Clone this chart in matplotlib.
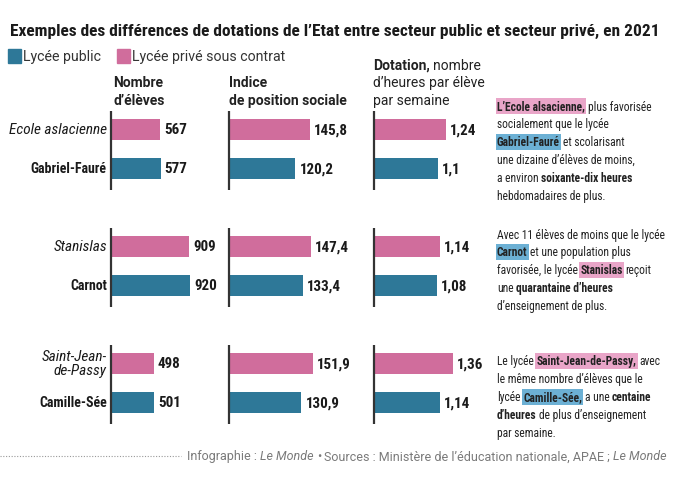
import matplotlib
matplotlib.use("Agg")
import matplotlib.pyplot as plt

# ---- data ----
SCHOOLS = ["Ecole aslacienne", "Gabriel-Fauré", "Stanislas", "Carnot",
           "Saint-Jean-\nde-Passy", "Camille-Sée"]
PRIVATE = [True, False, True, False, True, False]
ELEVES = [567, 577, 909, 920, 498, 501]
IPS = [145.8, 120.2, 147.4, 133.4, 151.9, 130.9]
DOTATION = [1.24, 1.1, 1.14, 1.08, 1.36, 1.14]

TITLE = ("Exemples des différences de dotations de l’Etat entre secteur public "
         "et secteur privé, en 2021")
LEGEND = ["Lycée public", "Lycée privé sous contrat"]

# annotation text: (text, style) with style n=normal, b=bold, hp/hb=highlight
NOTES = [
    [[("L’Ecole alsacienne,", "hp"), ("plus favorisée", "n")],
     [("socialement que le lycée", "n")],
     [("Gabriel-Fauré", "hb"), ("et scolarisant", "n")],
     [("une dizaine d’élèves de moins,", "n")],
     [("a environ", "n"), ("soixante-dix heures", "b")],
     [("hebdomadaires de plus.", "n")]],
    [[("Avec 11 élèves de moins que le lycée", "n")],
     [("Carnot", "hb"), ("et une population plus", "n")],
     [("favorisée, le lycée", "n"), ("Stanislas", "hp"), ("reçoit", "n")],
     [("une", "n"), ("quarantaine d’heures", "b")],
     [("d’enseignement de plus.", "n")]],
    [[("Le lycée", "n"), ("Saint-Jean-de-Passy,", "hp"), ("avec", "n")],
     [("le même nombre d’élèves que le", "n")],
     [("lycée", "n"), ("Camille-Sée,", "hb"), ("a une", "n"), ("centaine", "b")],
     [("d’heures", "b"), ("de plus d’enseignement", "n")],
     [("par semaine.", "n")]],
]

BLUE = "#2e7898"
PINK = "#d06d9c"
HL = {"hp": "#e9a5c8", "hb": "#6cb0d4"}
NARROW = ["Roboto Condensed", "DejaVu Sans"]
SANS = ["Roboto", "DejaVu Sans"]

W, H = 680, 485


def fx(x):
    return x / W


def fy(y):
    return 1 - y / H


def fit_size(fig, renderer, text, target, family, weight="normal", ref=10):
    t = fig.text(0, 0, text, fontsize=ref, family=family, fontweight=weight)
    w = t.get_window_extent(renderer).width
    t.remove()
    return ref * target / w


def rich_line(fig, renderer, x, y, segments, size, family, color="#222222",
              bold_scale=1.0):
    space = fig.text(0, 0, "a a", fontsize=size, family=family)
    aa = fig.text(0, 0, "aa", fontsize=size, family=family)
    gap = space.get_window_extent(renderer).width - aa.get_window_extent(renderer).width
    space.remove()
    aa.remove()
    cur = x
    for text, style in segments:
        kw = dict(fontsize=size, family=family, color=color, va="center", ha="left")
        if style in ("b", "hp", "hb"):
            kw["fontweight"] = "bold"
            kw["fontsize"] = size * bold_scale
        if style == "i":
            kw["fontstyle"] = "italic"
        if style in HL:
            kw["bbox"] = dict(boxstyle="square,pad=0.12", fc=HL[style], ec="none")
        t = fig.text(fx(cur), fy(y), text, **kw)
        ext = t.get_window_extent(renderer)
        cur += ext.width + gap


fig = plt.figure(figsize=(W / 100, H / 100), dpi=100)
fig.patch.set_facecolor("white")
renderer = fig.canvas.get_renderer()

title_size = fit_size(fig, renderer, TITLE, 652, NARROW, "bold")
fig.text(fx(10), fy(31), TITLE, fontsize=title_size, fontweight="bold",
         family=NARROW, color="#1a1a1a", va="center")

# legend
for i, (lab, col) in enumerate(zip(LEGEND, [BLUE, PINK])):
    x0 = [8, 117][i]
    fig.patches.append(plt.Rectangle((fx(x0), fy(64)), 13 / W, 14 / H,
                                     transform=fig.transFigure, color=col))
    fig.text(fx(x0 + 15), fy(57), lab, fontsize=10.2, family=SANS,
             color="#333333", va="center")

# column headers
hdr = dict(fontsize=10, family=SANS, va="center", color="#222222")
fig.text(fx(113), fy(83), "Nombre", fontweight="bold", **hdr)
fig.text(fx(113), fy(101), "d’élèves", fontweight="bold", **hdr)
fig.text(fx(229), fy(83), "Indice", fontweight="bold", **hdr)
fig.text(fx(229), fy(101), "de position sociale", fontweight="bold", **hdr)
rich_line(fig, renderer, 373, 66, [("Dotation,", "b"), ("nombre", "n")], 10, SANS)
fig.text(fx(373), fy(83), "d’heures par élève", **hdr)
fig.text(fx(373), fy(101), "par semaine", **hdr)

# bar positions: pairs of rows per school group
ypos = [3 * (i // 2) + (i % 2) for i in range(len(SCHOOLS))]
colors = [PINK if p else BLUE for p in PRIVATE]
y_top, y_bot = 100, 430
c0, step = 130.5, 39.0
ylim = ((y_bot - c0) / step, (y_top - c0) / step)

columns = [(111, 0.086, ELEVES, "{:d}"), (229, 0.553, IPS, "{:g}"),
           (374, 58.0, DOTATION, "{:g}")]
for ci, (left, scale, vals, fmt) in enumerate(columns):
    ax = fig.add_axes([fx(left), (H - y_bot) / H, 100 / W, (y_bot - y_top) / H])
    ax.set_xlim(0, 100 / scale)
    ax.set_ylim(*ylim)
    ax.axis("off")
    ax.barh(ypos, vals, height=0.52, color=colors)
    for g in range(3):
        ax.plot([0, 0], [3 * g - 0.48, 3 * g + 1.54], color="#333333", lw=1.6,
                solid_capstyle="butt", clip_on=False)
    for y, v in zip(ypos, vals):
        ax.annotate(fmt.format(v).replace(".", ","), xy=(v, y), xytext=(3, 0),
                    textcoords="offset points", va="center", ha="left",
                    fontsize=10.8, fontweight="bold", family=NARROW,
                    color="#1a1a1a")
    if ci == 0:
        for y, name, priv in zip(ypos, SCHOOLS, PRIVATE):
            ax.annotate(name, xy=(0, y), xytext=(-3, 0),
                        textcoords="offset points", va="center", ha="right",
                        fontsize=11 if priv else 10, family=NARROW,
                        linespacing=1.0,
                        fontstyle="italic" if priv else "normal",
                        fontweight="normal" if priv else "bold",
                        color="#1a1a1a")

# annotations
note_size = fit_size(fig, renderer, "socialement que le lycée", 111, NARROW)
starts = [107, 235, 362]
for start, lines in zip(starts, NOTES):
    for k, segs in enumerate(lines):
        rich_line(fig, renderer, 497, start + 17.9 * k, segs, note_size, NARROW,
                  bold_scale=1.0)

# footer
fig.lines.append(plt.Line2D([0, fx(181)], [fy(457), fy(457)],
                            transform=fig.transFigure, color="#999999",
                            lw=0.8, ls=(0, (1, 1.5))))
rich_line(fig, renderer, 187, 457,
          [("Infographie :", "n"), ("Le Monde", "i"), ("•", "n"),
           ("Sources : Ministère de l’éducation nationale, APAE ;", "n"),
           ("Le Monde", "i")], 9, SANS, color="#7a7a7a")

fig.savefig("out.png", dpi=100, facecolor="white")
